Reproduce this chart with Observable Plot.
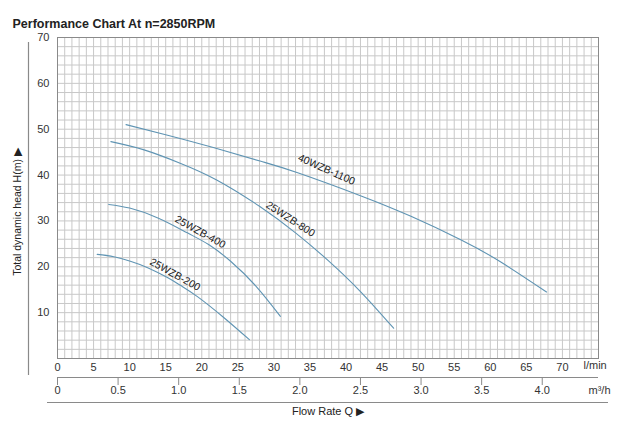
<!DOCTYPE html>
<html><head><meta charset="utf-8">
<script src="https://cdn.jsdelivr.net/npm/d3@7"></script>
<script src="https://cdn.jsdelivr.net/npm/@observablehq/plot@0.6"></script>
<style>
html,body{margin:0;padding:0;background:#fff;}
#chart svg{display:block;}
</style>
</head><body><div id="chart"></div>
<script>
// ---- data ----
const title = "Performance Chart At n=2850RPM";
const yLabel = "Total dynamic head H(m) \u25B6";
const xLabel = "Flow Rate Q \u25B6";
const lminUnit = "l/min";
const m3hUnit = "m\u00B3/h";
const lminTicks = [0, 5, 10, 15, 20, 25, 30, 35, 40, 45, 50, 55, 60, 65, 70];
const headTicks = [10, 20, 30, 40, 50, 60, 70];
const m3hTicks = [0, 0.5, 1.0, 1.5, 2.0, 2.5, 3.0, 3.5, 4.0];
const m3hTickLabels = ["0", "0.5", "1.0", "1.5", "2.0", "2.5", "3.0", "3.5", "4.0"];
const lminPerM3h = 16.8; // spacing of the m³/h scale as drawn in the reference

const models = ["40WZB-1100", "25WZB-800", "25WZB-400", "25WZB-200"];
const flow1100 = [9.5, 15, 21.6, 28.2, 33.3, 42, 49, 55.9, 61.4, 67.8];
const head1100 = [51.0, 48.8, 46.0, 43.0, 40.5, 35.5, 31.0, 25.9, 21.1, 14.5];
const flow800 = [7.4, 12, 17, 22, 28, 33, 37.5, 42, 46.6];
const head800 = [47.3, 45.5, 42.6, 39.0, 33.2, 27.4, 21.4, 14.6, 6.6];
const flow400 = [7.1, 10, 14, 18, 21, 24, 27.5, 30.9];
const head400 = [33.6, 32.8, 30.6, 27.4, 24.8, 21.2, 15.8, 9.2];
const flow200 = [5.5, 7.8, 10.1, 12.5, 15.3, 17.1, 19.4, 23, 26.6];
const head200 = [22.7, 22.2, 21.2, 19.8, 17.6, 15.9, 13.5, 9.0, 4.1];

const labelFlow = [37.3, 32.3, 19.8, 16.3];
const labelHead = [41.2, 30.4, 27.6, 18.3];
const labelAngle = [24, 33, 29, 29];

// ---- build tables ----
const seriesFlow = [flow1100, flow800, flow400, flow200];
const seriesHead = [head1100, head800, head400, head200];
const curves = models.flatMap((m, k) => seriesFlow[k].map((q, i) => ({model: m, Q: q, H: seriesHead[k][i]})));
const labels = models.map((m, k) => ({model: m, Q: labelFlow[k], H: labelHead[k], a: labelAngle[k]}));
const m3h = m3hTicks.map((v, i) => ({v, label: m3hTickLabels[i]}));

const gridColor = "#c8c8c8";
const axisColor = "#8a8a8a";
const curveColor = "#5f94b3";
const font = "'Liberation Sans', Arial, sans-serif";

const plot = Plot.plot({
  width: 620,
  height: 424,
  marginLeft: 57,
  marginRight: 22,
  marginTop: 37,
  marginBottom: 66,
  style: {fontFamily: font, fontSize: "11px", color: "#333", background: "#fff", overflow: "visible"},
  x: {domain: [0, 75], ticks: lminTicks, tickSize: 0, tickPadding: 5, label: null},
  y: {domain: [0, 70], ticks: headTicks, tickSize: 0, tickPadding: 8, label: null},
  marks: [
    Plot.ruleX(d3.range(0, 76, 1), {stroke: gridColor, strokeWidth: 1, strokeOpacity: 1}),
    Plot.ruleY(d3.range(0, 71, 2), {stroke: gridColor, strokeWidth: 1, strokeOpacity: 1}),
    Plot.frame({stroke: axisColor, strokeWidth: 1}),
    Plot.line(curves, {x: "Q", y: "H", z: "model", stroke: curveColor, strokeWidth: 1.1, curve: "natural"}),
    Plot.text(labels, {x: "Q", y: "H", text: "model", rotate: "a", fontSize: 10.5, fill: "#222"}),
    // l/min unit
    Plot.text([lminUnit], {frameAnchor: "bottom-right", dx: -15, dy: 10, textAnchor: "start", fontSize: 11, fill: "#333"}),
    // m³/h secondary axis
    Plot.ruleY([0], {dy: 19, stroke: axisColor}),
    Plot.ruleX(m3h, {x: d => d.v * lminPerM3h, y1: 0, y2: 0, dy: 19, insetBottom: -8, stroke: axisColor}),
    Plot.text(m3h, {x: d => d.v * lminPerM3h, text: "label", frameAnchor: "bottom", dy: 35, fontSize: 11, fill: "#333"}),
    Plot.text([m3hUnit], {frameAnchor: "bottom-right", dx: -10, dy: 35, textAnchor: "start", fontSize: 11, fill: "#333"}),
    // bottom separator and axis title
    Plot.ruleY([0], {dy: 44, insetLeft: -10, insetRight: -10, stroke: axisColor}),
    Plot.text([xLabel], {frameAnchor: "bottom", dy: 56, fontSize: 11, fill: "#222"}),
    // y title
    Plot.text([yLabel], {frameAnchor: "left", textAnchor: "middle", dx: -40, dy: 14, rotate: -90, fontSize: 10.5, fill: "#222"}),
    // title
    Plot.text([title], {frameAnchor: "top-left", dx: -45, dy: -18, textAnchor: "start", fontWeight: "bold", fontSize: 12.5, fill: "#222"})
  ]
});
document.getElementById("chart").appendChild(plot);

// left vertical guide line, placed through the plot's own scales
const xs = plot.scale("x"), ys = plot.scale("y");
const gx = Math.round(xs.apply(-4)) + 0.5;
d3.select(plot).append("line")
  .attr("x1", gx).attr("x2", gx)
  .attr("y1", ys.apply(70) + 5).attr("y2", ys.apply(0) + 17)
  .attr("stroke", axisColor).attr("stroke-width", 1.2);
</script>
</body></html>
